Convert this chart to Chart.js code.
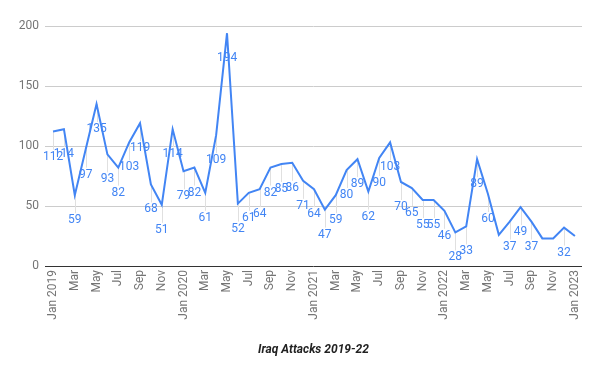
<!DOCTYPE html>
<html>
<head>
<meta charset="utf-8">
<script src="https://cdn.jsdelivr.net/npm/chart.js@4.4.1/dist/chart.umd.min.js"></script>
<style>
  html, body { margin: 0; padding: 0; background: #fff; }
  #wrap { width: 600px; height: 376px; }
</style>
</head>
<body>
<div id="wrap"><canvas id="attackChart" width="600" height="376"></canvas></div>
<script>
// monthly attacks, Jan 2019 .. Jan 2023
const attacks = [
  112, 114, 59, 97, 135, 93, 82, 103, 119, 68, 51, 114,
  79, 82, 61, 109, 194, 52, 61, 64, 82, 85, 86, 71,
  64, 47, 59, 80, 89, 62, 90, 103, 70, 65, 55, 55,
  46, 28, 33, 89, 60, 26, 37, 49, 37, 23, 23, 32,
  25
];
// numbers printed on the chart (null = not shown)
const pointLabels = [
  112, 114, 59, 97, 135, 93, 82, 103, 119, 68, 51, 114,
  79, 82, 61, 109, 194, 52, 61, 64, 82, 85, 86, 71,
  64, 47, 59, 80, 89, 62, 90, 103, 70, 65, 55, 55,
  46, 28, 33, 89, 60, null, 37, 49, 37, null, null, 32,
  null
];
const tickLabels = [
  "Jan 2019", "Mar", "May", "Jul", "Sep", "Nov",
  "Jan 2020", "Mar", "May", "Jul", "Sep", "Nov",
  "Jan 2021", "Mar", "May", "Jul", "Sep", "Nov",
  "Jan 2022", "Mar", "May", "Jul", "Sep", "Nov",
  "Jan 2023"
];
const yTicks = [0, 50, 100, 150, 200];

const lineColor = "#4285F4";

// Google-style annotations: thin stem under the point, value below it
const annotations = {
  id: "annotations",
  beforeDatasetsDraw(chart) {
    const ctx = chart.ctx;
    const meta = chart.getDatasetMeta(0);
    ctx.save();
    ctx.strokeStyle = "#e0e0e0";
    ctx.lineWidth = 1;
    meta.data.forEach((pt, i) => {
      if (pointLabels[i] == null) return;
      ctx.beginPath();
      ctx.moveTo(Math.round(pt.x) + 0.5, pt.y);
      ctx.lineTo(Math.round(pt.x) + 0.5, pt.y + 18);
      ctx.stroke();
    });
    ctx.restore();
  },
  afterDatasetsDraw(chart) {
    const ctx = chart.ctx;
    const meta = chart.getDatasetMeta(0);
    ctx.save();
    ctx.font = "12px Roboto";
    ctx.fillStyle = lineColor;
    ctx.textAlign = "center";
    ctx.textBaseline = "middle";
    meta.data.forEach((pt, i) => {
      if (pointLabels[i] == null) return;
      ctx.fillText(String(pointLabels[i]), pt.x, pt.y + 25);
    });
    ctx.restore();
  }
};

new Chart(document.getElementById("attackChart").getContext("2d"), {
  type: "line",
  data: {
    datasets: [{
      data: attacks.map((v, i) => ({ x: i, y: v })),
      borderColor: lineColor,
      borderWidth: 2,
      pointRadius: 0,
      tension: 0,
      fill: false
    }]
  },
  options: {
    responsive: false,
    animation: false,
    layout: { padding: { top: 26, right: 18, left: 0, bottom: 0 } },
    plugins: {
      legend: { display: false },
      tooltip: { enabled: false }
    },
    scales: {
      x: {
        type: "linear",
        min: -0.74,
        max: 48.65,
        afterBuildTicks: scale => {
          scale.ticks = tickLabels.map((l, i) => ({ value: i * 2 }));
        },
        afterFit: scale => { scale.height = 110; },
        ticks: {
          autoSkip: false,
          minRotation: 90,
          maxRotation: 90,
          padding: 4,
          color: "#757575",
          font: { family: "Roboto", size: 12 },
          callback: (v, i) => tickLabels[i]
        },
        grid: { display: false, drawTicks: false },
        border: { display: false },
        title: {
          display: true,
          text: "Iraq Attacks 2019-22",
          color: "#222",
          font: { family: "Roboto", size: 12, weight: "bold", style: "italic" },
          padding: { top: 0, bottom: 19 }
        }
      },
      y: {
        min: 0,
        max: 200,
        afterBuildTicks: scale => {
          scale.ticks = yTicks.map(v => ({ value: v }));
        },
        afterFit: scale => { scale.width = 45; },
        ticks: {
          padding: 6,
          color: "#757575",
          font: { family: "Roboto", size: 12 }
        },
        grid: {
          drawTicks: false,
          color: c => c.tick && c.tick.value === 0 ? "#333" : "#cccccc",
          lineWidth: 1
        },
        border: { display: false }
      }
    }
  },
  plugins: [annotations]
});
</script>
</body>
</html>
